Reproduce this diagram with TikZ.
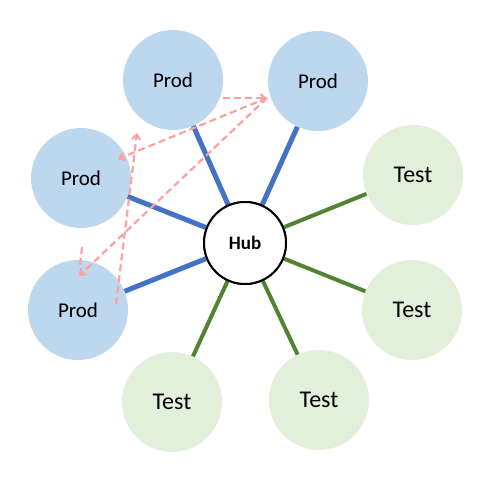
\documentclass[tikz,border=0pt]{standalone}
\usepackage{fontspec}
\setmainfont{Carlito}
\usetikzlibrary{arrows.meta}
\definecolor{prodfill}{HTML}{BDD7EE}
\definecolor{testfill}{HTML}{E2EFDA}
\definecolor{prodline}{HTML}{4472C4}
\definecolor{testline}{HTML}{548235}
\definecolor{pinkdash}{HTML}{FFA0A0}
\tikzset{
  prodnode/.style={circle, fill=prodfill, minimum size=100pt, inner sep=0pt, font=\fontsize{21}{23}\selectfont},
  testnode/.style={circle, fill=testfill, minimum size=100pt, inner sep=0pt, font=\fontsize{24}{26}\selectfont},
  hubnode/.style={circle, draw=black, fill=white, line width=2pt, minimum size=82pt, inner sep=0pt, font=\fontsize{19}{21}\selectfont\bfseries},
  prodspoke/.style={draw=prodline, line width=5pt},
  testspoke/.style={draw=testline, line width=4pt},
  pinkline/.style={draw=pinkdash, line width=2.2pt, dash pattern=on 7pt off 4pt},
  pinkarrow/.style={pinkline, -{Straight Barb[length=5pt,width=8pt,line width=2pt]}}
}
\begin{document}
\begin{tikzpicture}[x=1pt,y=-1pt]
\useasboundingbox (0,0) rectangle (500,500);
\node[prodnode] (p1) at (173,80) {Prod};
\node[prodnode] (p2) at (318,81) {Prod};
\node[prodnode] (p3) at (81,178) {Prod};
\node[prodnode] (p4) at (78,310) {Prod};
\node[testnode] (t1) at (413,175) {Test};
\node[testnode] (t2) at (412,310) {Test};
\node[testnode] (t3) at (319,400) {Test};
\node[testnode] (t4) at (172,402) {Test};
\node[hubnode] (hub) at (245,243) {Hub};
\path[prodspoke] (hub) -- (p1);
\path[prodspoke] (hub) -- (p2);
\path[prodspoke] (hub) -- (p3);
\path[prodspoke] (hub) -- (p4);
\path[testspoke] (hub) -- (t1);
\path[testspoke] (hub) -- (t2);
\path[testspoke] (hub) -- (t3);
\path[testspoke] (hub) -- (t4);
\node[hubnode] at (hub) {Hub};
\coordinate (a0) at (223,98);
\coordinate (a1) at (267,98);
\coordinate (a2) at (118,159);
\coordinate (a3) at (79,276);
\coordinate (a4) at (116,304);
\coordinate (a5) at (137,133);
\coordinate (a6) at (82,247);
\coordinate (a7) at (80,266);
\draw[pinkarrow] (a0) -- (a1);
\draw[pinkarrow] (a1) -- (a2);
\draw[pinkarrow] (a1) -- (a3);
\draw[pinkarrow] (a4) -- (a5);
\draw[pinkline] (a6) -- (a7);
\end{tikzpicture}
\end{document}
